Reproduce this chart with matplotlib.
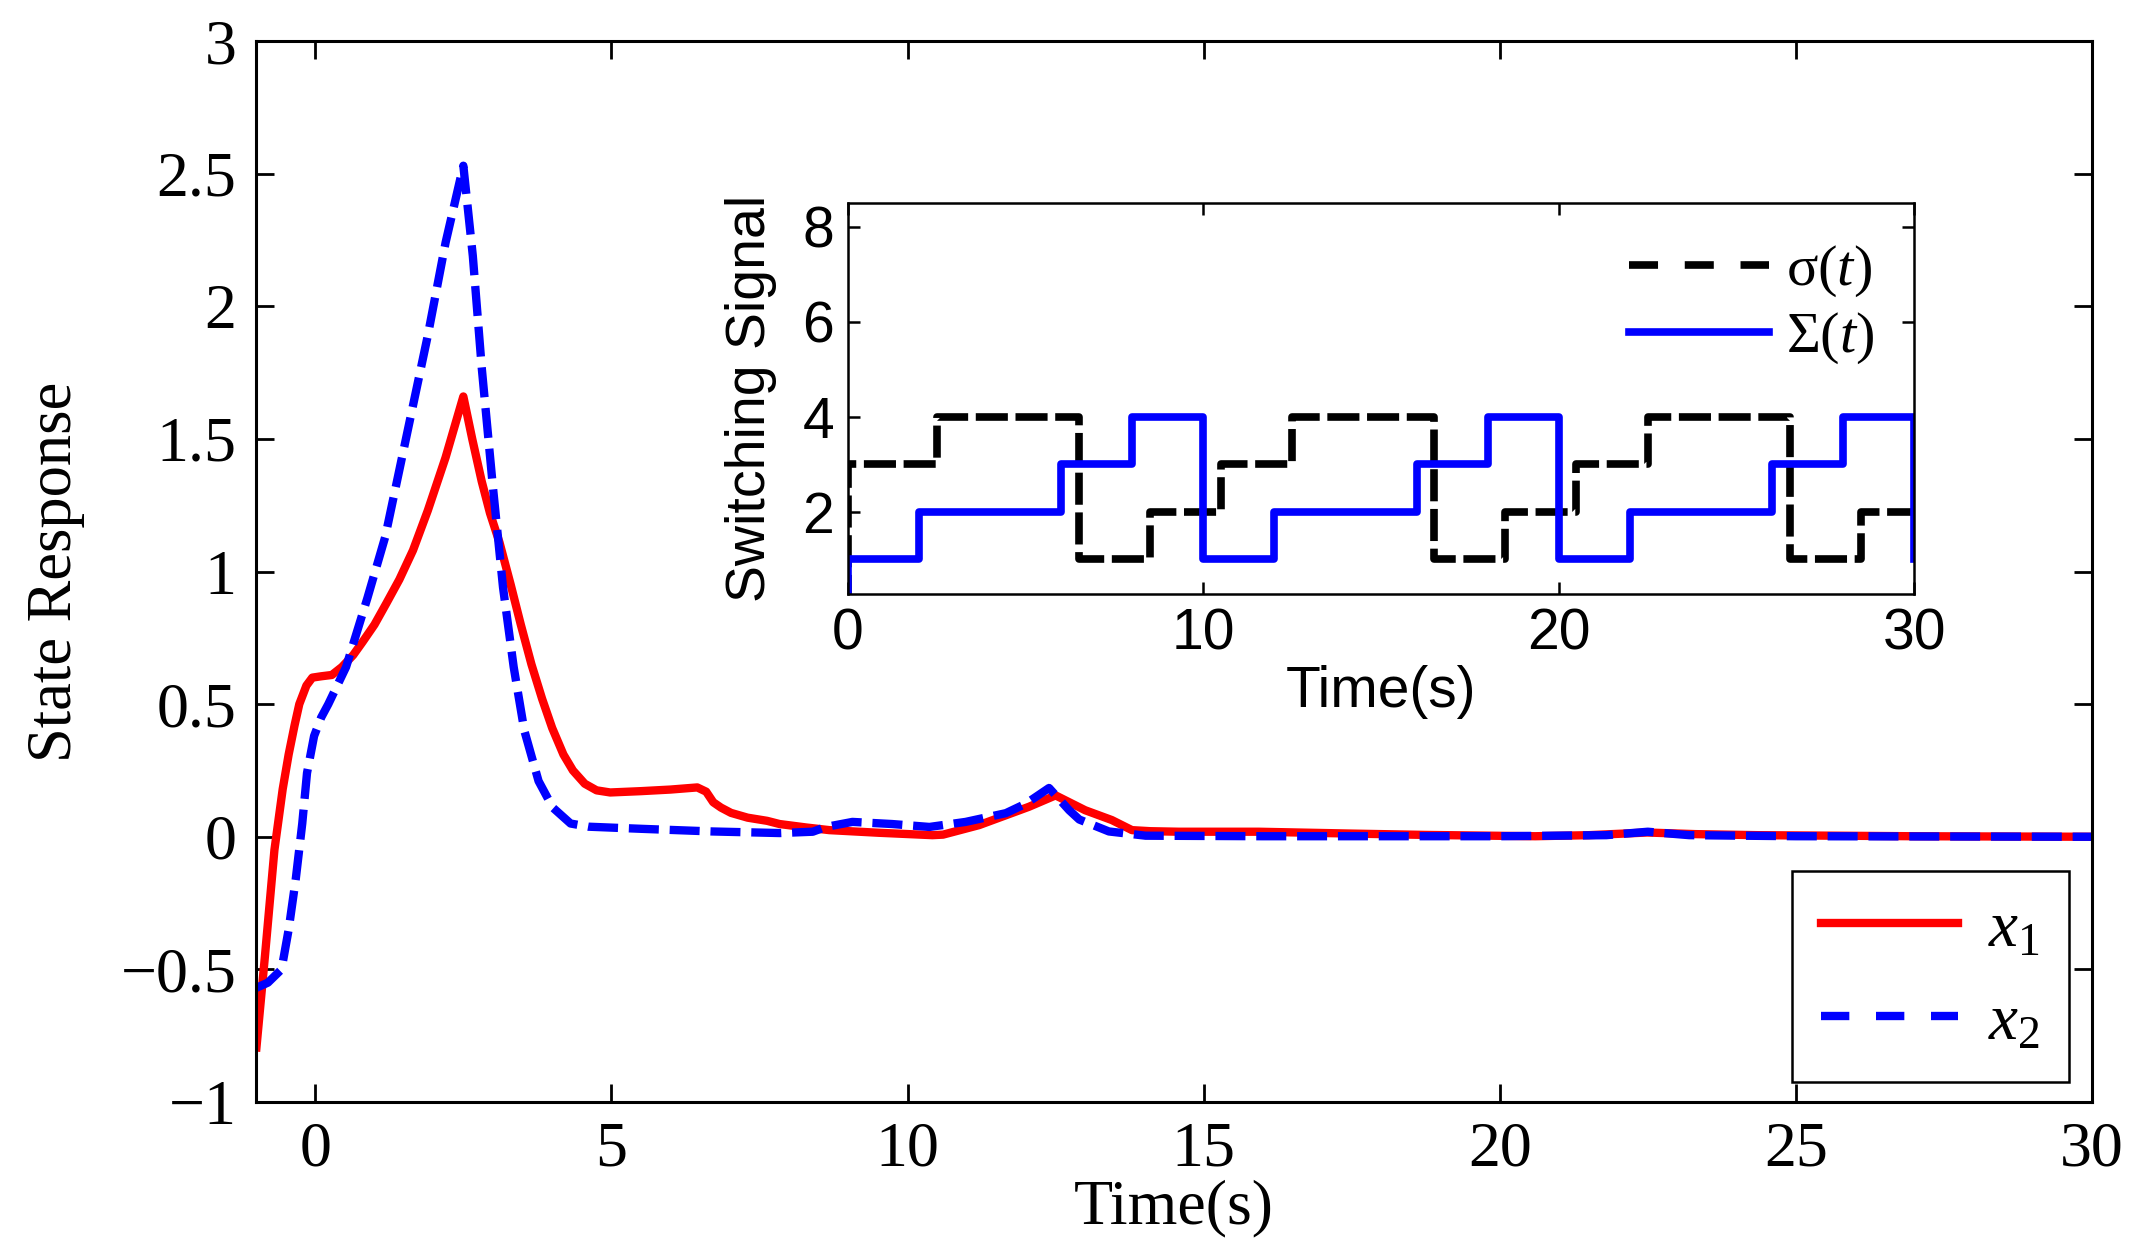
import numpy as np
import matplotlib.pyplot as plt
from matplotlib.lines import Line2D

plt.rcParams['font.family'] = 'Liberation Serif'
plt.rcParams['mathtext.fontset'] = 'custom'
plt.rcParams['mathtext.rm'] = 'Liberation Serif'
plt.rcParams['mathtext.it'] = 'Liberation Serif:italic'

# state x1
t_x1 = [-1, -0.85, -0.69, -0.55, -0.45, -0.35, -0.27, -0.15, -0.05, 0.1, 0.28,
        0.45, 0.64, 0.8, 1.0, 1.2, 1.42, 1.65, 1.9, 2.2, 2.5, 2.65, 2.81, 2.95,
        3.11, 3.3, 3.47, 3.65, 3.83, 4.0, 4.19, 4.35, 4.55, 4.75, 4.98, 5.5,
        6.0, 6.45, 6.6, 6.72, 6.85, 7.02, 7.3, 7.63, 7.84, 8.29, 8.68, 9.52,
        10.42, 10.6, 11.21, 12.05, 12.5, 13.0, 13.45, 13.79, 14.1, 14.58,
        15.93, 17.5, 18.74, 20.6, 21.5, 22.49, 23.3, 24.36, 27, 30]
x1 = [-0.81, -0.45, -0.05, 0.18, 0.31, 0.42, 0.50, 0.57, 0.60, 0.605, 0.61,
      0.64, 0.685, 0.735, 0.80, 0.88, 0.97, 1.08, 1.23, 1.43, 1.66, 1.50, 1.34,
      1.22, 1.11, 0.95, 0.80, 0.65, 0.52, 0.41, 0.31, 0.25, 0.20, 0.175, 0.167,
      0.172, 0.178, 0.186, 0.17, 0.13, 0.11, 0.09, 0.072, 0.06, 0.048, 0.035,
      0.025, 0.015, 0.006, 0.008, 0.044, 0.113, 0.156, 0.10, 0.063, 0.025,
      0.021, 0.019, 0.019, 0.012, 0.007, 0.002, 0.006, 0.016, 0.01, 0.006,
      0.002, 0.0]

# state x2
t_x2 = [-1, -0.8, -0.57, -0.45, -0.33, -0.22, -0.14, -0.02, 0.1, 0.22, 0.52,
        0.88, 1.18, 1.54, 1.9, 2.2, 2.5, 2.66, 2.81, 2.99, 3.17, 3.35, 3.53,
        3.77, 4.01, 4.31, 4.61, 5.5, 6.7, 7.84, 8.4, 8.62, 9.07, 9.74, 10.37,
        10.98, 11.66, 12.0, 12.39, 12.73, 12.9, 13.4, 14.02, 16, 20, 21.8,
        22.5, 23.2, 25, 30]
x2 = [-0.57, -0.55, -0.50, -0.35, -0.16, 0.05, 0.24, 0.38, 0.45, 0.50, 0.64,
      0.90, 1.13, 1.51, 1.89, 2.24, 2.53, 2.19, 1.77, 1.34, 0.94, 0.64, 0.40,
      0.21, 0.11, 0.05, 0.038, 0.03, 0.02, 0.014, 0.019, 0.037, 0.056, 0.048,
      0.037, 0.056, 0.089, 0.125, 0.184, 0.10, 0.065, 0.02, 0.004, 0.002,
      0.002, 0.006, 0.019, 0.006, 0.002, 0.0]

# switching signals
t_sigma = [0, 0, 2.5, 6.5, 8.5, 10.5, 12.5, 16.5, 18.5, 20.5, 22.5, 26.5, 28.5, 30]
sigma = [0, 3, 4, 1, 2, 3, 4, 1, 2, 3, 4, 1, 2, 2]
t_Sigma = [0, 0, 2, 6, 8, 10, 12, 16, 18, 20, 22, 26, 28, 30, 30]
Sigma = [0, 1, 2, 3, 4, 1, 2, 3, 4, 1, 2, 3, 4, 4, 1]

main_xticks = [0, 5, 10, 15, 20, 25, 30]
main_yticks = [-1, -0.5, 0, 0.5, 1, 1.5, 2, 2.5, 3]
main_ylabels = ['\u22121', '\u22120.5', '0', '0.5', '1', '1.5', '2', '2.5', '3']
inset_xticks = [0, 10, 20, 30]
inset_yticks = [2, 4, 6, 8]

fig = plt.figure(figsize=(21.41, 12.59), dpi=100)

# main axes
ax = fig.add_axes([0.1196, 0.1247, 0.8575, 0.8427])
ax.plot(t_x1, x1, color='red', lw=6, solid_capstyle='butt')
ax.plot(t_x2, x2, color='blue', lw=6, dashes=(3.6, 1.3))
ax.set_xlim(-1, 30)
ax.set_ylim(-1, 3)
ax.set_xticks(main_xticks)
ax.set_xticklabels([str(v) for v in main_xticks])
ax.set_yticks(main_yticks)
ax.set_yticklabels(main_ylabels)
ax.tick_params(direction='in', length=13, width=2, labelsize=46, pad=14,
               top=True, right=True)
for s in ax.spines.values():
    s.set_linewidth(2.2)
ax.set_xlabel('Time(s)', fontsize=46, labelpad=0)
ax.set_ylabel('State Response', fontsize=45, labelpad=26)

h1 = Line2D([], [], color='red', lw=6)
h2 = Line2D([], [], color='blue', lw=6, dashes=(3.4, 3.2))
leg = ax.legend([h1, h2], [r'$x_{\mathit{1}}$', r'$x_{\mathit{2}}$'],
                loc='lower right', bbox_to_anchor=(0.9875, 0.0189),
                fontsize=47, handlelength=2.1, handletextpad=0.45,
                labelspacing=0.5, borderpad=0.45, borderaxespad=0,
                fancybox=False, edgecolor='black', framealpha=1)
leg.get_frame().set_linewidth(1.8)

# inset axes
ins = fig.add_axes([0.3961, 0.5282, 0.4979, 0.3106])
ins.plot(t_sigma, sigma, color='black', lw=5.5, dashes=(4.2, 1.0),
         drawstyle='steps-post')
ins.plot(t_Sigma, Sigma, color='blue', lw=5.5, drawstyle='steps-post')
ins.set_xlim(0, 30)
ins.set_ylim(0.27, 8.5)
ins.set_xticks(inset_xticks)
ins.set_yticks(inset_yticks)
ins.tick_params(direction='in', length=8.5, width=1.8, labelsize=41, pad=10,
                top=True, right=True)
for lab in ins.get_xticklabels() + ins.get_yticklabels():
    lab.set_family('Liberation Sans')
for s in ins.spines.values():
    s.set_linewidth(1.8)
ins.set_xlabel('Time(s)', fontsize=41, family='Liberation Sans', labelpad=2)
ins.set_ylabel('Switching Signal', fontsize=40, family='Liberation Sans',
               labelpad=18)

g1 = Line2D([], [], color='black', lw=5.5, dashes=(3.8, 3.5))
g2 = Line2D([], [], color='blue', lw=5.5)
ins.legend([g1, g2], [r'$\mathrm{\sigma}(t)$', r'$\Sigma(t)$'],
           loc='upper right', bbox_to_anchor=(0.985, 0.955), frameon=False,
           fontsize=42, handlelength=2.4, handletextpad=0.3,
           labelspacing=0.2, borderaxespad=0)

fig.savefig('out.png', dpi=100)
